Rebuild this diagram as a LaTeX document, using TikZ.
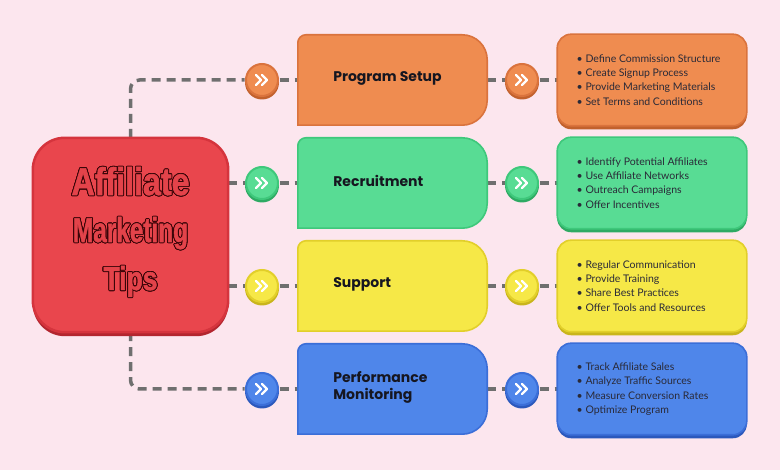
\documentclass[tikz,border=0pt]{standalone}
\usepackage{fontspec}
\usepackage{contour}
\usetikzlibrary{calc}
\newfontfamily\titlefont{Poppins}
\newfontfamily\bodyfont{Lato}
\newfontfamily\bigfont[FakeStretch=0.8,FakeBold=1.5]{Liberation Sans Bold}
\contourlength{0.9pt}
\definecolor{bg}{HTML}{FCE6EE}
\definecolor{dashgray}{HTML}{6F6F6F}
\definecolor{fill1}{HTML}{EF8C50}\definecolor{edge1}{HTML}{DA733D}\definecolor{shad1}{HTML}{C2612D}
\definecolor{fill2}{HTML}{58DC94}\definecolor{edge2}{HTML}{3EC87B}\definecolor{shad2}{HTML}{2EAA63}
\definecolor{fill3}{HTML}{F6E847}\definecolor{edge3}{HTML}{E2CF2A}\definecolor{shad3}{HTML}{C9B51C}
\definecolor{fill4}{HTML}{4F86EA}\definecolor{edge4}{HTML}{3B6ED8}\definecolor{shad4}{HTML}{2B58BC}
\definecolor{redfill}{HTML}{E9464D}\definecolor{rededge}{HTML}{D5343D}\definecolor{redshad}{HTML}{B3262F}
\definecolor{tiptxt}{HTML}{E3434A}\definecolor{tipedge}{HTML}{3A0508}
\definecolor{titletxt}{HTML}{161620}\definecolor{bodytxt}{HTML}{2A2A38}
\tikzset{
  conn/.style={draw=dashgray, line width=3.5pt, dash pattern=on 9pt off 6pt, rounded corners=9pt},
  rbox/.style={rectangle, minimum width=188pt, minimum height=90pt, rounded corners=14pt, line width=1.6pt, inner sep=0pt},
  mbox/.style={rectangle, minimum width=189pt, minimum height=90pt, inner sep=0pt},
  circ/.style={circle, minimum size=33pt, inner sep=0pt, line width=2pt},
  chev/.style={draw=white, line width=2.2pt, line cap=round, line join=round},
  titletext/.style={anchor=west, align=left, text=titletxt, font=\titlefont\bfseries\fontsize{14}{17}\selectfont},
  bodytext/.style={anchor=west, align=left, text=bodytxt, font=\bodyfont\fontsize{10.5}{14.3}\selectfont},
  bigtext/.style={anchor=base, inner sep=0pt, text=tiptxt, font=\bigfont}
}
\newcommand\midshape[1]{%
  ($(#1.south west)$) -- ($(#1.north west)+(0,-8)$) arc[start angle=180,end angle=90,radius=8pt]
  -- ($(#1.north east)+(-25,0)$) arc[start angle=90,end angle=0,radius=25pt]
  -- ($(#1.south east)+(0,25)$) arc[start angle=0,end angle=-90,radius=25pt] -- cycle}
\begin{document}
\begin{tikzpicture}[x=1pt,y=1pt]
\useasboundingbox (0,0) rectangle (780,470);
\fill[bg] (0,0) rectangle (780,470);
% central box (named, drawn later)
\node[rectangle, minimum width=195pt, minimum height=194pt, inner sep=0pt] (main) at (130.5,235) {};
% node placement
\foreach \i/\y in {1/390,2/287,3/184,4/81}{
  \node[mbox] (m\i) at (392.5,\y) {};
  \node[rbox] (r\i) at (652,\y) {};
  \node[circ] (lc\i) at (262,\y) {};
  \node[circ] (rc\i) at (522,\y) {};
}
% connectors
\draw[conn] (main.north) |- (lc1.west);
\draw[conn] (main.east |- lc2) -- (lc2.west);
\draw[conn] (main.east |- lc3) -- (lc3.west);
\draw[conn] (main.south) |- (lc4.west);
\foreach \i in {1,2,3,4}{
  \draw[conn] (lc\i.east) -- (m\i.west);
  \draw[conn] (m\i.east) -- (rc\i.west);
  \draw[conn] (rc\i.east) -- (r\i.west);
}
% central box drawing
\fill[redshad, rounded corners=32pt] ($(main.south west)+(0,-4)$) rectangle ($(main.north east)+(0,-4)$);
\draw[fill=redfill, draw=rededge, line width=2.5pt, rounded corners=32pt] (main.south west) rectangle (main.north east);
\node[bigtext] (t1) at (130.5,275) {\contour{tipedge}{\resizebox{118pt}{28pt}{Affiliate}}};
\node[bigtext] (t2) at (130.5,228) {\contour{tipedge}{\resizebox{115pt}{25pt}{Marketing}}};
\node[bigtext] (t3) at (130.5,180) {\contour{tipedge}{\resizebox{54pt}{24pt}{Tips}}};
% rows
\foreach \i/\ttl/\items in {
  1/{Program Setup}/{• Define Commission Structure\\• Create Signup Process\\• Provide Marketing Materials\\• Set Terms and Conditions},
  2/{Recruitment}/{• Identify Potential Affiliates\\• Use Affiliate Networks\\• Outreach Campaigns\\• Offer Incentives},
  3/{Support}/{• Regular Communication\\• Provide Training\\• Share Best Practices\\• Offer Tools and Resources},
  4/{Performance\\Monitoring}/{• Track Affiliate Sales\\• Analyze Traffic Sources\\• Measure Conversion Rates\\• Optimize Program}}{
  % middle box
  \begin{scope}[shift={(0,-3.5)}]
    \fill[shad\i] \midshape{m\i};
  \end{scope}
  \draw[fill=fill\i, draw=edge\i, line width=1.6pt] \midshape{m\i};
  \node[titletext] (tt\i) at ($(m\i.west)+(32,2)$) {\ttl};
  % right box
  \fill[shad\i, rounded corners=14pt] ($(r\i.south west)+(0,-3.5)$) rectangle ($(r\i.north east)+(0,-3.5)$);
  \draw[fill=fill\i, draw=edge\i, line width=1.6pt, rounded corners=14pt] (r\i.south west) rectangle (r\i.north east);
  \node[bodytext] (bt\i) at ($(r\i.west)+(16,0)$) {\items};
  % circles
  \foreach \c in {lc\i,rc\i}{
    \fill[shad\i] ($(\c.center)+(0,-2.5)$) circle[radius=17pt];
    \draw[fill=fill\i, draw=edge\i, line width=2pt] (\c.center) circle[radius=16pt];
    \draw[chev] ($(\c.center)+(-6,5)$) -- ++(5,-5) -- ++(-5,-5);
    \draw[chev] ($(\c.center)+(0,5)$) -- ++(5,-5) -- ++(-5,-5);
  }
}
\end{tikzpicture}
\end{document}
